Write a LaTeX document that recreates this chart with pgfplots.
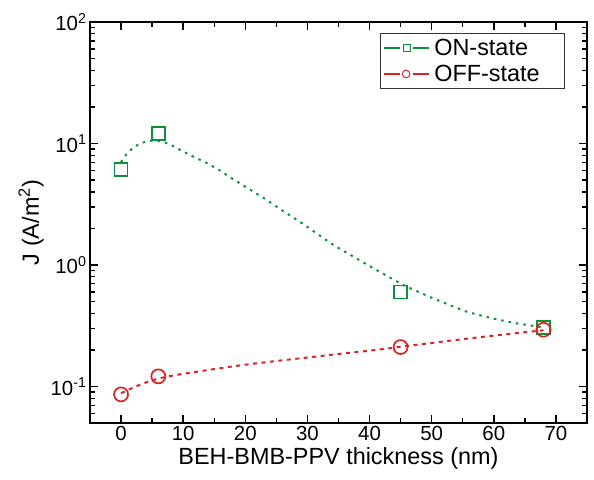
\documentclass[border=0pt]{standalone}
\usepackage{pgfplots}
\pgfplotsset{compat=1.18}
\usepackage{fontspec}
\setmainfont{Liberation Sans}
\definecolor{ongreen}{RGB}{10,145,60}
\definecolor{offred}{RGB}{220,35,35}

\begin{document}
\begin{tikzpicture}
\begin{axis}[
    scale only axis,
    width=497bp, height=401bp,
    at={(0,0)}, anchor=south west,
    ymode=log,
    xmin=-5, xmax=75,
    ymin=0.05, ymax=100,
    xtick={0,10,...,70},
    minor x tick num=1,
    ytick={0.1,1,10,100},
    yticklabels={{10\textsuperscript{-1}},{10\textsuperscript{0}},{10\textsuperscript{1}},{10\textsuperscript{2}}},
    minor ytick={0.06,0.07,0.08,0.09,0.2,0.3,0.4,0.5,0.6,0.7,0.8,0.9,2,3,4,5,6,7,8,9,20,30,40,50,60,70,80,90},
    tick align=inside,
    major tick length=8bp,
    minor tick length=5bp,
    every tick/.style={line width=1.4bp, black},
    axis line style={line width=1.6bp},
    /pgf/number format/assume math mode=true,
    tick label style={font=\fontsize{20.5}{22}\selectfont},
    label style={font=\fontsize{23.5}{25}\selectfont},
    xlabel={BEH-BMB-PPV thickness (nm)},
    ylabel={J (A/m\textsuperscript{2})},
    legend style={font=\fontsize{23.5}{25}\selectfont, at={(rel axis cs:0.956,0.973)}, anchor=north east,
        draw=black!80, line width=0.8bp, row sep=4bp, inner xsep=2bp, inner ysep=4bp,
        cells={anchor=west}},
    legend cell align=left,
]
% fitted curves
\addplot[ongreen, line width=2bp, dash pattern=on 2.5bp off 5bp, smooth, tension=0.3, forget plot] coordinates {
    (0,7.0) (0.5,7.7) (1,8.3) (1.5,8.8) (2,9.25) (3,9.95) (4,10.35) (5,10.55) (6,10.5)
    (7,10.2) (8,9.75) (9.5,8.85) (11.5,7.85) (13.8,6.9) (16,5.95) (18,5.1) (20.5,4.25)
    (23.4,3.44) (26,2.8) (28.7,2.28) (31.4,1.83) (34.1,1.47) (36.8,1.22) (39.4,1.02)
    (42.3,0.84) (45.3,0.69) (47.7,0.605) (50.1,0.535) (52.8,0.47) (55.5,0.415)
    (58.2,0.38) (60.8,0.354) (63.5,0.332) (66.2,0.316) (68,0.305)
};
\addplot[offred, line width=2bp, dash pattern=on 4bp off 4.5bp, smooth, tension=0.4, forget plot] coordinates {
    (0,0.088) (1,0.093) (2,0.098) (3,0.103) (4.5,0.110) (6,0.116) (8,0.122) (10,0.127)
    (15,0.139) (20,0.151) (25,0.162) (30,0.173) (35,0.185) (40,0.197) (45,0.212)
    (50,0.228) (55,0.245) (60,0.262) (64,0.276) (68,0.29)
};
% measured points
\addplot[ongreen, only marks, mark=square, mark size=6.5bp, line width=1.7bp,
    legend image code/.code={
        \draw[line width=1.5bp] (0bp,0bp) -- (16bp,0bp);
        \draw[line width=1.5bp] (29bp,0bp) -- (45bp,0bp);
        \draw[line width=1bp] (19.5bp,-3.5bp) rectangle (26.5bp,3.5bp);
    }] coordinates {
    (0,6.1) (6,12.1) (45,0.6) (68,0.305)
};
\addlegendentry{\hspace*{3bp}ON-state\hspace*{21bp}}
\addplot[offred, only marks, mark=o, mark size=7bp, line width=1.7bp,
    legend image code/.code={
        \draw[line width=1.5bp] (0bp,0bp) -- (16bp,0bp);
        \draw[line width=1.5bp] (29bp,0bp) -- (45bp,0bp);
        \draw[line width=1bp] (22.5bp,0bp) circle (3.8bp);
    }] coordinates {
    (0,0.086) (6,0.121) (45,0.211) (68,0.293)
};
\addlegendentry{\hspace*{3bp}OFF-state\hspace*{21bp}}
\end{axis}
\pgfresetboundingbox
\path (-90bp,-57bp) rectangle (504bp,423bp);
\end{tikzpicture}
\end{document}
